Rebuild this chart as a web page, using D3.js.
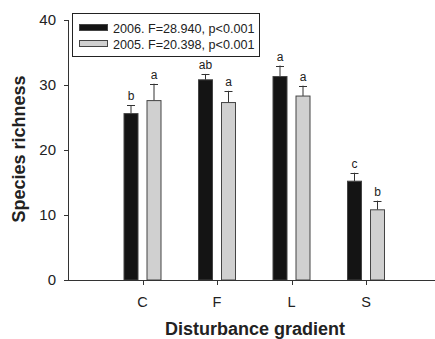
<!DOCTYPE html>
<html>
<head>
<meta charset="utf-8">
<script src="https://cdn.jsdelivr.net/npm/d3@7"></script>
<style>
  body { margin: 0; background: #fff; }
  svg text { font-family: "Liberation Sans", Arial, sans-serif; fill: #222; }
</style>
</head>
<body>
<svg id="chart" width="435" height="339"></svg>
<script>
const categories = ['C', 'F', 'L', 'S'];
const seriesNames = ['2006. F=28.940, p<0.001', '2005. F=20.398, p<0.001'];
const values2006 = [25.6, 30.8, 31.3, 15.2];
const errors2006 = [1.3, 0.9, 1.7, 1.3];
const letters2006 = ['b', 'ab', 'a', 'c'];
const values2005 = [27.6, 27.3, 28.3, 10.8];
const errors2005 = [2.6, 1.8, 1.6, 1.4];
const letters2005 = ['a', 'a', 'a', 'b'];
const yTicks = [0, 10, 20, 30, 40];

const colors = ['#141414', '#d0d0d0'];

const svg = d3.select('#chart');

// plot area: axis at x=68, categories every ~74.5px
const x = d3.scaleLinear().domain([0, 5]).range([68, 440.5]);
const y = d3.scaleLinear().domain([0, 40]).range([280, 20]);

const barW = 14;
const offsets = [-11.5, 11.5];

const series = [
  { vals: values2006, errs: errors2006, letters: letters2006 },
  { vals: values2005, errs: errors2005, letters: letters2005 }
];

// y axis
svg.append('line')
  .attr('x1', 68.5).attr('x2', 68.5)
  .attr('y1', y(40)).attr('y2', y(0))
  .attr('stroke', '#333');

svg.selectAll('.ytick')
  .data(yTicks)
  .enter()
  .append('line')
  .attr('x1', 64).attr('x2', 68.5)
  .attr('y1', d => Math.round(y(d)) + 0.5)
  .attr('y2', d => Math.round(y(d)) + 0.5)
  .attr('stroke', '#333');

svg.selectAll('.ylab')
  .data(yTicks)
  .enter()
  .append('text')
  .attr('x', 56)
  .attr('y', d => y(d))
  .attr('dy', '0.36em')
  .attr('text-anchor', 'end')
  .style('font-size', '15px')
  .text(d => d);

// bars
series.forEach((s, si) => {
  const g = svg.append('g');
  categories.forEach((c, i) => {
    const cx = x(i + 1) + offsets[si];
    const top = y(s.vals[i]);
    const errTop = y(s.vals[i] + s.errs[i]);
    g.append('line')
      .attr('x1', cx).attr('x2', cx)
      .attr('y1', top).attr('y2', errTop)
      .attr('stroke', '#333');
    g.append('line')
      .attr('x1', cx - 4).attr('x2', cx + 4)
      .attr('y1', Math.round(errTop) + 0.5).attr('y2', Math.round(errTop) + 0.5)
      .attr('stroke', '#333');
    g.append('rect')
      .attr('x', cx - barW / 2)
      .attr('y', top)
      .attr('width', barW)
      .attr('height', y(0) - top)
      .attr('fill', colors[si])
      .attr('stroke', '#444')
      .attr('stroke-width', 1);
    g.append('text')
      .attr('x', cx)
      .attr('y', errTop - 5)
      .attr('text-anchor', 'middle')
      .style('font-size', '12px')
      .text(s.letters[i]);
  });
});

// x axis
svg.append('line')
  .attr('x1', 68).attr('x2', 435)
  .attr('y1', 280.5).attr('y2', 280.5)
  .attr('stroke', '#333');

svg.selectAll('.xtick')
  .data(categories)
  .enter()
  .append('line')
  .attr('x1', (d, i) => Math.round(x(i + 1)) + 0.5)
  .attr('x2', (d, i) => Math.round(x(i + 1)) + 0.5)
  .attr('y1', 280.5).attr('y2', 285)
  .attr('stroke', '#333');

svg.selectAll('.xlab')
  .data(categories)
  .enter()
  .append('text')
  .attr('x', (d, i) => x(i + 1))
  .attr('y', 307)
  .attr('text-anchor', 'middle')
  .style('font-size', '14.5px')
  .text(d => d);

// axis titles
svg.append('text')
  .attr('x', 255)
  .attr('y', 335)
  .attr('text-anchor', 'middle')
  .style('font-size', '18px')
  .style('font-weight', 'bold')
  .text('Disturbance gradient');

svg.append('text')
  .attr('transform', 'translate(25,149) rotate(-90)')
  .attr('text-anchor', 'middle')
  .style('font-size', '18px')
  .style('font-weight', 'bold')
  .text('Species richness');

// legend
const legend = svg.append('g');
legend.append('rect')
  .attr('x', 72.5).attr('y', 13.5)
  .attr('width', 187).attr('height', 43)
  .attr('fill', '#fff')
  .attr('stroke', '#222');

seriesNames.forEach((name, i) => {
  legend.append('rect')
    .attr('x', 79.5).attr('y', 24.5 + i * 16)
    .attr('width', 28).attr('height', 6)
    .attr('fill', colors[i])
    .attr('stroke', '#444');
  legend.append('text')
    .attr('x', 113)
    .attr('y', 28 + i * 16)
    .attr('dy', '0.36em')
    .style('font-size', '12.6px')
    .text(name);
});
</script>
</body>
</html>
